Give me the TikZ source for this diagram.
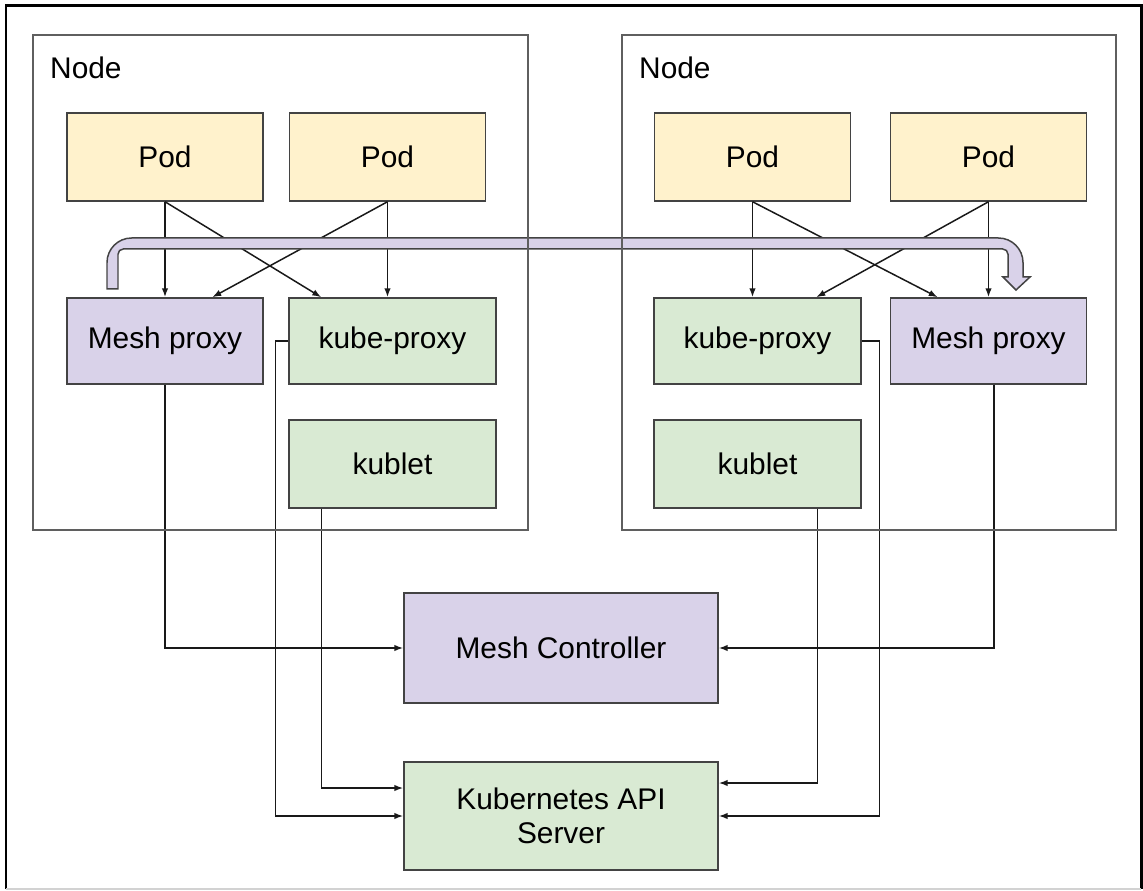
\documentclass[tikz,border=0pt]{standalone}
\usepackage{fontspec}
\setmainfont{Liberation Sans}
\usetikzlibrary{arrows.meta}

\definecolor{podjaune}{HTML}{FFF2CC}
\definecolor{meshviolet}{HTML}{D9D2E9}
\definecolor{kubevert}{HTML}{D9EAD3}
\definecolor{bord}{HTML}{434343}

\begin{document}
\begin{tikzpicture}[x=0.02cm,y=-0.02cm,
  boite/.style={draw=bord, line width=0.85pt, align=center, inner sep=0pt,
    font=\fontsize{17}{19}\selectfont},
  pod/.style={boite, fill=podjaune, minimum width=3.92cm, minimum height=1.76cm},
  meshbox/.style={boite, fill=meshviolet, minimum width=3.92cm, minimum height=1.72cm},
  kubebox/.style={boite, fill=kubevert, minimum width=4.14cm, minimum height=1.72cm},
  kubletbox/.style={boite, fill=kubevert, minimum width=4.14cm, minimum height=1.76cm},
  cadre/.style={draw=bord!85, line width=1.1pt, minimum width=9.9cm, minimum height=9.9cm, inner sep=0pt},
  fleche/.style={-{Latex[length=0.18cm,width=0.13cm]}, line width=0.85pt, black!90}]

\useasboundingbox (0,0) rectangle (1143,891);
%cadre exterieur
\draw[line width=1.7pt] (6,889) -- (6,6) -- (1141,6) -- (1141,889);
\draw[gray!35, line width=1pt] (6,889) -- (1141,889);

%noeud de gauche
\node[pod] (podA) at (165,157) {Pod};
\node[pod] (podB) at (387.5,157) {Pod};
\node[meshbox] (meshG) at (165,341) {Mesh proxy};
\node[kubebox] (kubeG) at (392.5,341) {kube-proxy};
\node[kubletbox] (kubletG) at (392.5,464) {kublet};

%noeud de droite
\node[pod] (podC) at (752.5,157) {Pod};
\node[pod] (podD) at (988.5,157) {Pod};
\node[kubebox] (kubeD) at (757.5,341) {kube-proxy};
\node[meshbox] (meshD) at (988.5,341) {Mesh proxy};
\node[kubletbox] (kubletD) at (757.5,464) {kublet};

%controle
\node[boite, fill=meshviolet, minimum width=6.28cm, minimum height=2.2cm] (ctrl) at (561,648) {Mesh Controller};
\node[boite, fill=kubevert, minimum width=6.28cm, minimum height=2.16cm] (api) at (561,816) {Kubernetes API\\Server};

%pods vers proxies
\draw[fleche] (podA.south) -- (meshG.north);
\draw[fleche] (podA.south) -- ([xshift=0.66cm]kubeG.north west);
\draw[fleche] (podB.south) -- ([xshift=2.92cm]meshG.north west);
\draw[fleche] (podB.south) -- (podB.south |- kubeG.north);
\draw[fleche] (podC.south) -- (podC.south |- kubeD.north);
\draw[fleche] (podC.south) -- ([xshift=0.96cm]meshD.north west);
\draw[fleche] (podD.south) -- (meshD.north);
\draw[fleche] (podD.south) -- ([xshift=3.26cm]kubeD.north west);

%vers le controleur et l'API
\draw[fleche] (meshG.south) |- (ctrl.west);
\draw[fleche] ([xshift=0.11cm]meshD.south) |- (ctrl.east);
\draw[fleche] (kubeG.west) -- ++(-13,0) |- (api.west);
\draw[fleche] (kubeD.east) -- ++(18,0) |- (api.east);
\draw[fleche] ([xshift=0.66cm]kubletG.south west) |- ([yshift=0.56cm]api.west);
\draw[fleche] ([xshift=3.28cm]kubletD.south west) |- ([yshift=0.66cm]api.east);

%grosse fleche mesh proxy -> mesh proxy
\draw[draw=bord, fill=meshviolet, line width=0.85pt]
  (107,289) [rounded corners=14] -- (107,238) -- (1023,238) [sharp corners]
  -- (1023,277) -- (1030,277) -- (1016,290) -- (1003,277) -- (1008,277)
  [rounded corners=3] -- (1008,249) -- (118,249) [sharp corners] -- (118,289) -- cycle;

%les noeuds
\node[cadre] (noeudG) at (280.5,282.5) {};
\node[cadre] (noeudD) at (869,282.5) {};
\node[anchor=base west, font=\fontsize{17}{19}\selectfont] (titreG) at (44,79) {Node};
\node[anchor=base west, font=\fontsize{17}{19}\selectfont] (titreD) at (633,79) {Node};

\end{tikzpicture}
\end{document}
